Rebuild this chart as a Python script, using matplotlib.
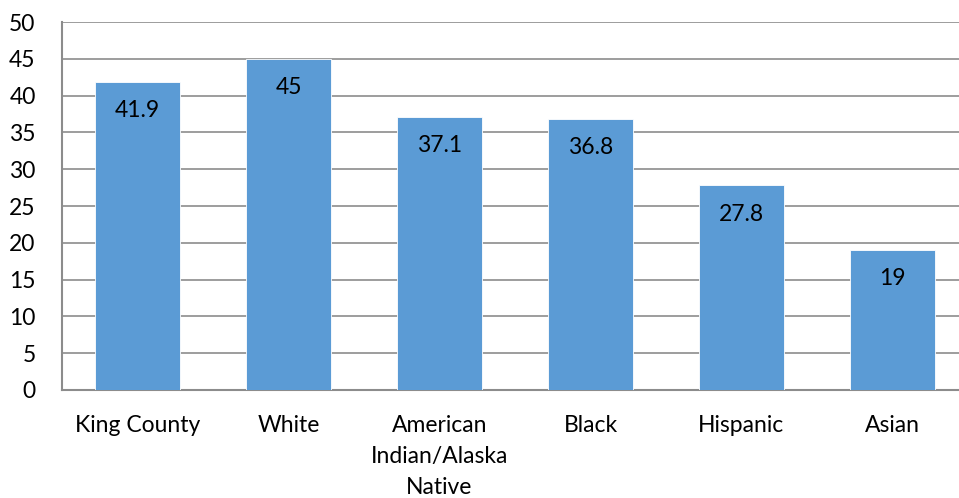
import matplotlib
matplotlib.use("Agg")
import matplotlib.pyplot as plt

plt.rcParams['font.family'] = ['Lato', 'DejaVu Sans']

categories = ["King County", "White", "American\nIndian/Alaska\nNative", "Black", "Hispanic", "Asian"]
values = [41.9, 45, 37.1, 36.8, 27.8, 19]
labels = ["41.9", "45", "37.1", "36.8", "27.8", "19"]

fig = plt.figure(figsize=(9.59, 4.98), dpi=100)
ax = fig.add_axes([62/959, 1 - 390/498, 906/959, 368/498])

x = range(len(values))
bars = ax.bar(x, values, width=0.56, color="#5B9BD5", edgecolor="white", linewidth=0.6, zorder=3)

for xi, v, lab in zip(x, values, labels):
    ax.text(xi, v - 3.9, lab, ha="center", va="center", fontsize=16.5, color="black", zorder=4)

ax.set_xlim(-0.5, len(values) - 0.5)
ax.set_ylim(0, 50)
ax.set_yticks(range(0, 51, 5))
ax.tick_params(axis="y", length=0, labelsize=16.5, pad=19)
ax.tick_params(axis="x", length=0, labelsize=16.5, pad=18)
ax.set_xticks(list(x))
ax.set_xticklabels(categories, linespacing=1.6)
ax.grid(axis="y", color="#8c8c8c", linewidth=1.2, zorder=0)
for s in ["top", "right"]:
    ax.spines[s].set_visible(False)
for s in ["left", "bottom"]:
    ax.spines[s].set_color("#8c8c8c")
    ax.spines[s].set_linewidth(1.5)

fig.savefig("out.png", dpi=100)
